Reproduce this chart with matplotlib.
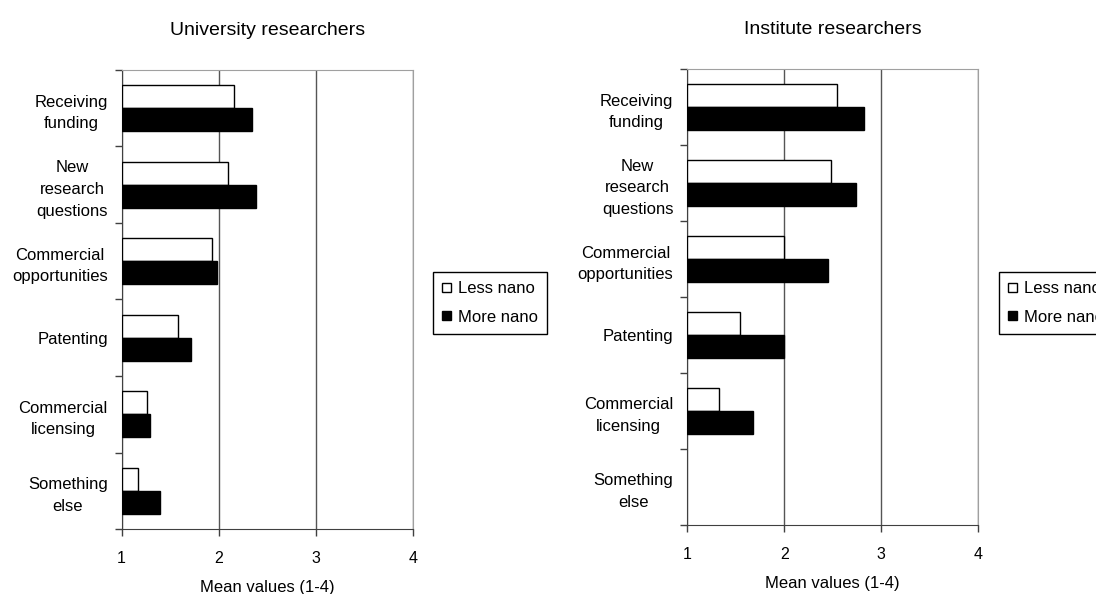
import numpy as np
import matplotlib.pyplot as plt
from matplotlib.patches import Patch

plt.rcParams['font.family'] = ['Liberation Sans', 'DejaVu Sans']

# Data (mean values, 1-4)
categories = ["Receiving\nfunding", "New\nresearch\nquestions", "Commercial\nopportunities",
              "Patenting", "Commercial\nlicensing", "Something\nelse"]
uni_less = [2.16, 2.10, 1.93, 1.58, 1.26, 1.17]
uni_more = [2.34, 2.38, 1.98, 1.71, 1.29, 1.40]
inst_less = [2.54, 2.48, 2.00, 1.54, 1.33, np.nan]
inst_more = [2.82, 2.74, 2.45, 2.00, 1.68, np.nan]

titles = ["University researchers", "Institute researchers"]
series_names = ["Less nano", "More nano"]

fig = plt.figure(figsize=(10.96, 5.94), dpi=100)
ax1 = fig.add_axes([0.111, 0.1094, 0.2656, 0.7728])
ax2 = fig.add_axes([0.6271, 0.1162, 0.2652, 0.7676])


def draw_panel(ax, less, more, title):
    n = len(categories)
    y = np.arange(n)
    h = 0.3
    less = np.array(less)
    more = np.array(more)
    ax.barh(y - h / 2, less - 1, left=1, height=h, color='white',
            edgecolor='black', linewidth=1, zorder=3)
    ax.barh(y + h / 2, more - 1, left=1, height=h, color='black',
            edgecolor='black', linewidth=1, zorder=3)
    ax.set_xlim(1, 4)
    ax.set_ylim(n - 0.5, -0.5)
    ax.set_xticks([1, 2, 3, 4])
    ax.set_xticklabels(["1", "2", "3", "4"], fontsize=11.5)
    ax.set_yticks(y)
    ax.set_yticklabels(categories, fontsize=12, multialignment='center',
                       linespacing=1.55)
    ax.set_yticks(np.arange(n + 1) - 0.5, minor=True)
    ax.tick_params(axis='y', which='major', length=0, pad=10)
    ax.tick_params(axis='y', which='minor', length=5, width=1, color='#404040')
    ax.tick_params(axis='x', length=5, width=1, color='#404040', pad=11)
    ax.xaxis.grid(True, color='#555555', linewidth=1, zorder=0)
    ax.set_axisbelow(True)
    for side in ['top', 'right']:
        ax.spines[side].set_color('#a0a0a0')
        ax.spines[side].set_linewidth(0.8)
    ax.spines['left'].set_color('#404040')
    ax.spines['bottom'].set_color('#404040')
    ax.set_xlabel("Mean values (1-4)", fontsize=12, labelpad=10)
    ax.set_title(title, fontsize=14, pad=25)


draw_panel(ax1, uni_less, uni_more, titles[0])
draw_panel(ax2, inst_less, inst_more, titles[1])

handles = [Patch(facecolor='white', edgecolor='black', linewidth=1),
           Patch(facecolor='black', edgecolor='black', linewidth=1)]
for x0 in [433 / 1096, 999 / 1096]:
    fig.legend(handles, series_names, loc='upper left',
               bbox_to_anchor=(x0, 1 - 272 / 594), fontsize=12,
               handlelength=0.5, handleheight=0.5, handletextpad=0.45,
               labelspacing=0.8, borderpad=0.55, borderaxespad=0,
               fancybox=False, edgecolor='black', framealpha=1)

fig.savefig("out.png", dpi=100)
